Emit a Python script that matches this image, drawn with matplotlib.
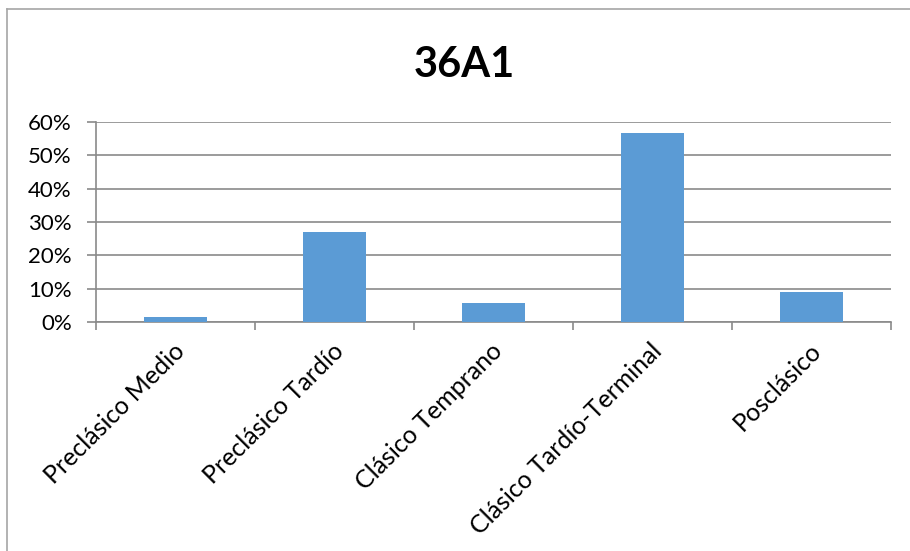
import numpy as np
import matplotlib
matplotlib.use('Agg')
import matplotlib.pyplot as plt
from matplotlib.lines import Line2D
from matplotlib.ticker import FuncFormatter

# font settings
plt.rcParams['font.family'] = ['Lato', 'DejaVu Sans']

# data
categories = ['Preclásico Medio', 'Preclásico Tardío', 'Clásico Temprano',
              'Clásico Tardío-Terminal', 'Posclásico']
shares = [0.014, 0.269, 0.057, 0.568, 0.091]
yticks = [0.0, 0.1, 0.2, 0.3, 0.4, 0.5, 0.6]

bar_color = '#5B9BD5'
axis_color = '#8A8A8A'

fig = plt.figure(figsize=(9.1, 5.51), dpi=100)
ax = fig.add_axes([0.1055, 0.4156, 0.8735, 0.363])

x = np.arange(len(categories))
ax.bar(x, shares, width=0.4, color=bar_color, zorder=3)

ax.set_xlim(-0.5, len(categories) - 0.5)
ax.set_ylim(0, 0.6)
ax.set_yticks(yticks)
ax.yaxis.set_major_formatter(FuncFormatter(lambda v, p: '{:.0f}%'.format(v * 100)))
ax.grid(axis='y', color=axis_color, linewidth=1.2, zorder=0)

# category ticks sit on the boundaries
ax.set_xticks(np.arange(len(categories) + 1) - 0.5)
ax.set_xticklabels([])
ax.tick_params(axis='x', length=6, width=1.2, color=axis_color)
ax.tick_params(axis='y', length=6.5, width=1.2, color=axis_color,
               labelsize=16, pad=11)

for i, name in enumerate(categories):
    ax.text(i + 0.035, -0.075, name, rotation=45, rotation_mode='anchor',
            ha='right', va='center', fontsize=18, transform=ax.transData)

for side in ['top', 'right']:
    ax.spines[side].set_visible(False)
for side in ['left', 'bottom']:
    ax.spines[side].set_color(axis_color)
    ax.spines[side].set_linewidth(1.2)

# title centred over the chart area
fig.text(464 / 910, 1 - 65 / 551, '36A1', fontsize=30, fontweight='bold',
         ha='center', va='center')

# chart border (left and top edges only visible)
fig.add_artist(Line2D([7 / 910, 7 / 910], [0, 1 - 9 / 551],
                      transform=fig.transFigure, color='#A6A6A6', lw=1.2))
fig.add_artist(Line2D([7 / 910, 1], [1 - 9 / 551, 1 - 9 / 551],
                      transform=fig.transFigure, color='#A6A6A6', lw=1.2))

plt.savefig('out.png', dpi=100)
